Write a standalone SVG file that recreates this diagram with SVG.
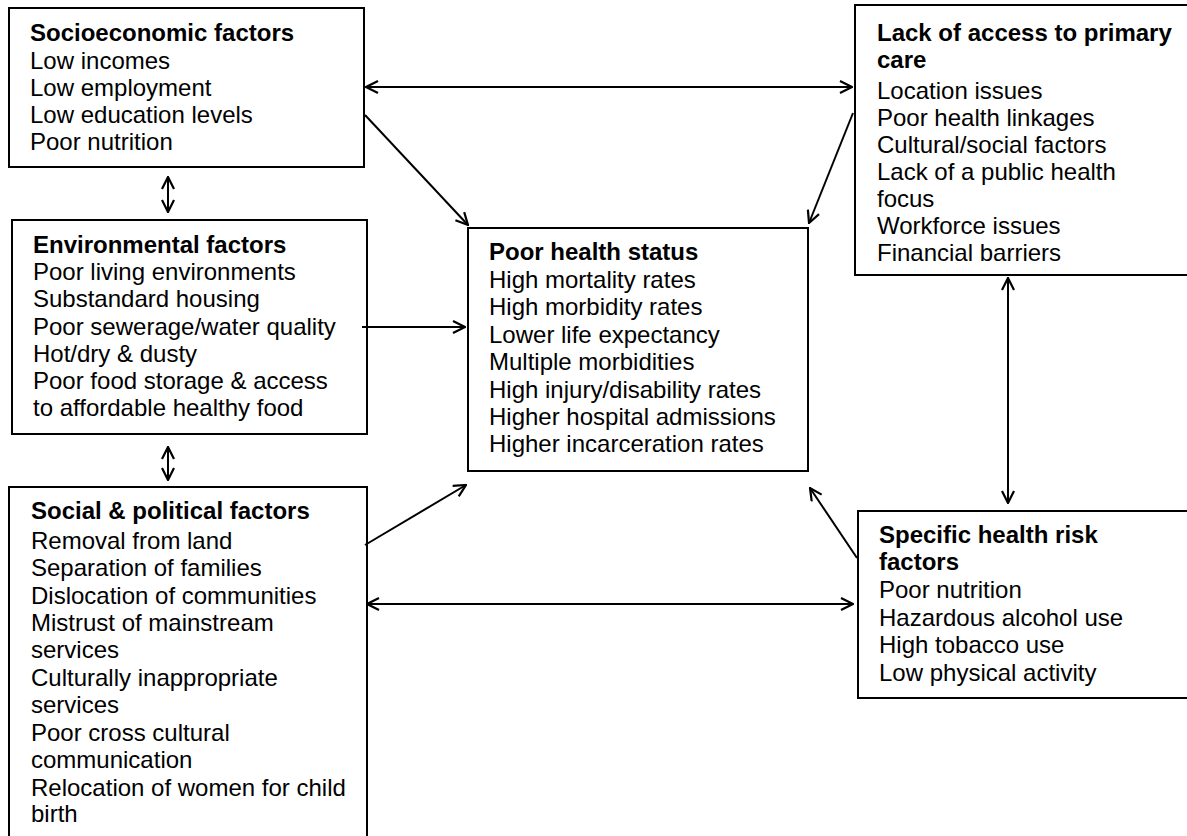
<svg xmlns="http://www.w3.org/2000/svg" width="1187" height="836" viewBox="0 0 1187 836">
<style>
.box{fill:#fff;stroke:#000;stroke-width:2}
.t{font-family:"Liberation Sans",Arial,sans-serif;font-size:24px;fill:#000}
.b{font-weight:bold}
.c{stroke:#000;stroke-width:2;fill:none}
</style>
<defs>
<marker id="arr" viewBox="0 0 14 14" refX="13" refY="7" markerWidth="14" markerHeight="14" markerUnits="userSpaceOnUse" orient="auto-start-reverse">
<path d="M1,1 L13,7 L1,13" fill="none" stroke="#000" stroke-width="2.2"/>
</marker>
</defs>
<rect width="1187" height="836" fill="#fff"/>
<g id="socioeconomic">
<rect class="box" x="9" y="8" width="355" height="159"/>
<text class="t b" x="30" y="41">Socioeconomic factors</text>
<text class="t" x="30" y="69">Low incomes</text>
<text class="t" x="30" y="96">Low employment</text>
<text class="t" x="30" y="123">Low education levels</text>
<text class="t" x="30" y="150">Poor nutrition</text>
</g>
<g id="environmental">
<rect class="box" x="12" y="220" width="355" height="214"/>
<text class="t b" x="33" y="253">Environmental factors</text>
<text class="t" x="33" y="280">Poor living environments</text>
<text class="t" x="33" y="307">Substandard housing</text>
<text class="t" x="33" y="335">Poor sewerage/water quality</text>
<text class="t" x="33" y="362">Hot/dry &amp; dusty</text>
<text class="t" x="33" y="389">Poor food storage &amp; access</text>
<text class="t" x="33" y="416">to affordable healthy food</text>
</g>
<g id="social">
<rect class="box" x="9" y="487" width="358" height="360"/>
<text class="t b" x="31" y="519">Social &amp; political factors</text>
<text class="t" x="31" y="549">Removal from land</text>
<text class="t" x="31" y="576">Separation of families</text>
<text class="t" x="31" y="604">Dislocation of communities</text>
<text class="t" x="31" y="631">Mistrust of mainstream</text>
<text class="t" x="31" y="658">services</text>
<text class="t" x="31" y="686">Culturally inappropriate</text>
<text class="t" x="31" y="713">services</text>
<text class="t" x="31" y="741">Poor cross cultural</text>
<text class="t" x="31" y="768">communication</text>
<text class="t" x="31" y="796">Relocation of women for child</text>
<text class="t" x="31" y="822">birth</text>
</g>
<g id="poor-health">
<rect class="box" x="468" y="228" width="340" height="243"/>
<text class="t b" x="489" y="260">Poor health status</text>
<text class="t" x="489" y="288">High mortality rates</text>
<text class="t" x="489" y="315">High morbidity rates</text>
<text class="t" x="489" y="343">Lower life expectancy</text>
<text class="t" x="489" y="370">Multiple morbidities</text>
<text class="t" x="489" y="398">High injury/disability rates</text>
<text class="t" x="489" y="425">Higher hospital admissions</text>
<text class="t" x="489" y="452">Higher incarceration rates</text>
</g>
<g id="primary-care">
<rect class="box" x="855" y="5" width="345" height="270"/>
<text class="t b" x="877" y="41">Lack of access to primary</text>
<text class="t b" x="877" y="68">care</text>
<text class="t" x="877" y="99">Location issues</text>
<text class="t" x="877" y="126">Poor health linkages</text>
<text class="t" x="877" y="153">Cultural/social factors</text>
<text class="t" x="877" y="180">Lack of a public health</text>
<text class="t" x="877" y="207">focus</text>
<text class="t" x="877" y="234">Workforce issues</text>
<text class="t" x="877" y="261">Financial barriers</text>
</g>
<g id="risk-factors">
<rect class="box" x="858" y="511" width="345" height="187"/>
<text class="t b" x="879" y="543">Specific health risk</text>
<text class="t b" x="879" y="570">factors</text>
<text class="t" x="879" y="598">Poor nutrition</text>
<text class="t" x="879" y="626">Hazardous alcohol use</text>
<text class="t" x="879" y="653">High tobacco use</text>
<text class="t" x="879" y="681">Low physical activity</text>
</g>
<g id="connectors">
<line class="c" x1="366" y1="87" x2="852" y2="87" marker-start="url(#arr)" marker-end="url(#arr)"/>
<line class="c" x1="365" y1="115" x2="468" y2="225" marker-end="url(#arr)"/>
<line class="c" x1="853" y1="113" x2="809" y2="223" marker-end="url(#arr)"/>
<line class="c" x1="362" y1="327" x2="465" y2="327" marker-end="url(#arr)"/>
<line class="c" x1="365" y1="545" x2="466" y2="485" marker-end="url(#arr)"/>
<line class="c" x1="857" y1="558" x2="810" y2="488" marker-end="url(#arr)"/>
<line class="c" x1="367" y1="604" x2="853" y2="604" marker-start="url(#arr)" marker-end="url(#arr)"/>
<line class="c" x1="1008" y1="278" x2="1008" y2="503" marker-start="url(#arr)" marker-end="url(#arr)"/>
<line class="c" x1="168" y1="177" x2="168" y2="212" marker-start="url(#arr)" marker-end="url(#arr)"/>
<line class="c" x1="168" y1="447" x2="168" y2="480" marker-start="url(#arr)" marker-end="url(#arr)"/>
</g>
</svg>
